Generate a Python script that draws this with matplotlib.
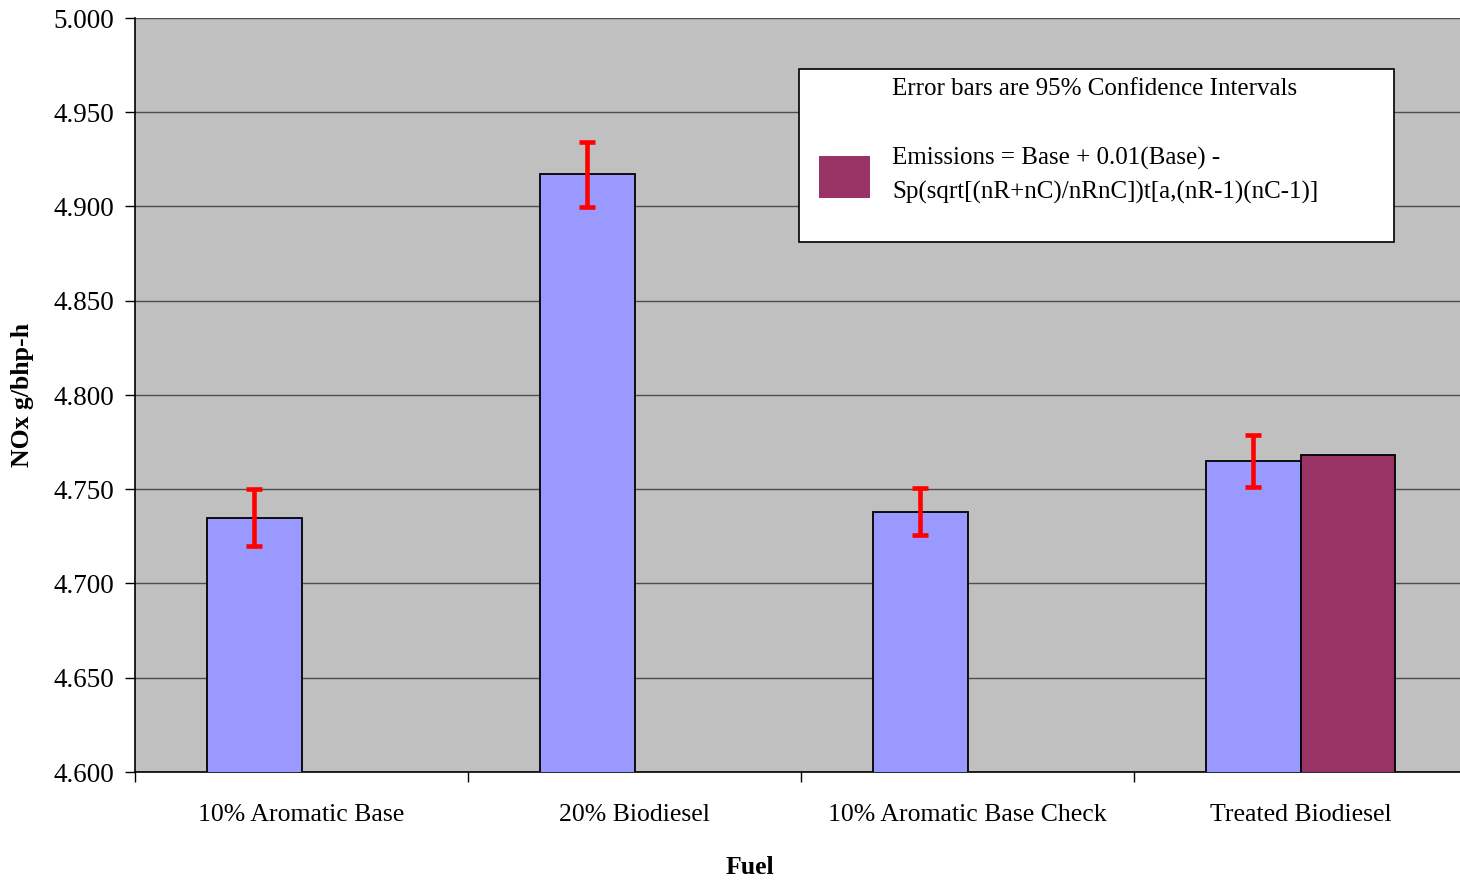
import numpy as np
import matplotlib
matplotlib.use('Agg')
import matplotlib.pyplot as plt
from matplotlib.patches import Rectangle

plt.rcParams['font.family'] = ['Liberation Serif', 'DejaVu Serif']

fuels = ['10% Aromatic Base', '20% Biodiesel', '10% Aromatic Base Check', 'Treated Biodiesel']
nox_mean = [4.735, 4.917, 4.738, 4.765]
nox_ci = [0.015, 0.017, 0.0125, 0.014]
emissions_fuel = ['Treated Biodiesel']
emissions_val = [4.768]
yticks = [4.600, 4.650, 4.700, 4.750, 4.800, 4.850, 4.900, 4.950, 5.000]

fig = plt.figure(figsize=(14.6, 8.8), dpi=100)
ax = fig.add_axes([135 / 1460, 108 / 880, 1332 / 1460, 754 / 880])
ax.set_facecolor('#C0C0C0')

x = np.arange(len(fuels))
w = 0.285

ax.bar(x, nox_mean, width=-w, align='edge', color='#9999FF',
       edgecolor='black', linewidth=1.3, zorder=3)
ex = [fuels.index(f) for f in emissions_fuel]
ax.bar(ex, emissions_val, width=w, align='edge', color='#993366',
       edgecolor='black', linewidth=1.3, zorder=3)
ax.errorbar(x - w / 2, nox_mean, yerr=nox_ci, fmt='none', ecolor='#FF0000',
            elinewidth=3.3, capsize=5.5, capthick=3.3, zorder=4)

ax.set_ylim(4.6, 5.0)
ax.set_xlim(-0.5, len(fuels) - 0.5)
ax.set_yticks(yticks)
ax.set_yticklabels(['%.3f' % v for v in yticks], fontsize=19.5)
ax.yaxis.grid(True, color='#4d4d4d', linewidth=1.0, zorder=1)
ax.set_axisbelow(True)

ax.set_xticks(x)
ax.set_xticklabels(fuels, fontsize=18.5)
ax.set_xticks(np.arange(len(fuels)) - 0.5, minor=True)
ax.tick_params(axis='x', which='major', length=0, pad=23)
ax.tick_params(axis='x', which='minor', length=7, width=1, direction='out')
ax.tick_params(axis='y', length=7, width=1, direction='out', pad=8)

for s in ['top', 'right']:
    ax.spines[s].set_visible(False)
ax.spines['left'].set_linewidth(1.2)
ax.spines['bottom'].set_linewidth(1.2)

ax.set_ylabel('NOx g/bhp-h', fontsize=18.5, fontweight='bold', labelpad=14)
fig.text(750 / 1460, 1 - 867 / 880, 'Fuel', fontsize=18.5, fontweight='bold',
         ha='center', va='center')

# legend box drawn in figure pixels
def fx(px):
    return px / 1460

def fy(py):
    return 1 - py / 880

fig.patches.append(Rectangle((fx(799), fy(242)), fx(1394) - fx(799), fy(69) - fy(242),
                             transform=fig.transFigure, facecolor='white',
                             edgecolor='black', linewidth=1.2, zorder=5))
fig.patches.append(Rectangle((fx(819), fy(198)), fx(870) - fx(819), fy(156) - fy(198),
                             transform=fig.transFigure, facecolor='#993366',
                             edgecolor='none', zorder=6))
fig.text(fx(892), fy(89), 'Error bars are 95% Confidence Intervals', fontsize=18,
         ha='left', va='center', zorder=7)
fig.text(fx(892), fy(158), 'Emissions = Base + 0.01(Base) -', fontsize=18,
         ha='left', va='center', zorder=7)
fig.text(fx(892), fy(192), 'Sp(sqrt[(nR+nC)/nRnC])t[a,(nR-1)(nC-1)]', fontsize=18,
         ha='left', va='center', zorder=7)

fig.savefig('out.png', dpi=100, facecolor='white')
